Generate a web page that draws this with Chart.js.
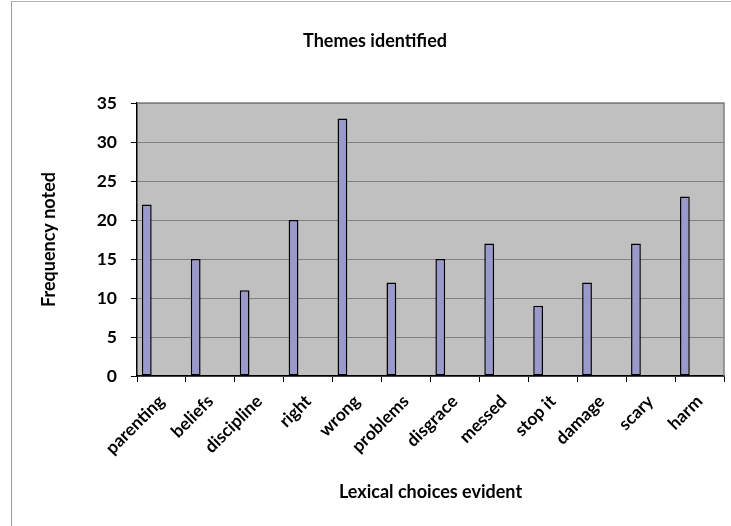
<!DOCTYPE html>
<html>
<head>
<meta charset="utf-8">
<script src="https://cdn.jsdelivr.net/npm/chart.js@4"></script>
<style>
  html, body { margin: 0; padding: 0; background: #fff; }
  #wrap { position: relative; width: 731px; height: 526px; overflow: hidden; }
  #frame { position: absolute; left: 11px; top: 1px; right: -5px; bottom: -5px;
           border-left: 1px solid #9a9a9a; border-top: 1px solid #b4b4b4; }
  canvas { position: absolute; left: 0; top: 0; }
</style>
</head>
<body>
<div id="wrap">
  <div id="frame"></div>
  <canvas id="c" width="731" height="526"></canvas>
</div>
<script>
const categories = ["parenting", "beliefs", "discipline", "right", "wrong", "problems",
                    "disgrace", "messed", "stop it", "damage", "scary", "harm"];
const frequencies = [22, 15, 11, 20, 33, 12, 15, 17, 9, 12, 17, 23];
const yTicks = [0, 5, 10, 15, 20, 25, 30, 35];
const chartTitle = "Themes identified";
const xTitle = "Lexical choices evident";
const yTitle = "Frequency noted";

const FONT = "Lato, 'Open Sans', sans-serif";

const plotBg = {
  id: 'plotBg',
  beforeDraw(chart) {
    const {ctx, chartArea: a} = chart;
    ctx.save();
    ctx.fillStyle = '#c0c0c0';
    ctx.fillRect(a.left, a.top, a.right - a.left, a.bottom - a.top);
    ctx.restore();
  },
  afterDraw(chart) {
    const {ctx, chartArea: a} = chart;
    ctx.save();
    ctx.strokeStyle = '#808080';
    ctx.lineWidth = 1.5;
    ctx.beginPath();
    ctx.moveTo(a.left, a.top);
    ctx.lineTo(a.right, a.top);
    ctx.lineTo(a.right, a.bottom);
    ctx.stroke();
    ctx.restore();
  }
};

// Excel-style clustered slot layout: only the first series holds data,
// the remaining slots of the cluster are empty.
new Chart(document.getElementById('c'), {
  type: 'bar',
  data: {
    labels: categories,
    datasets: [
      { label: 'Frequency', data: frequencies, backgroundColor: '#9999cc',
        borderColor: '#000000', borderWidth: 1.5, borderSkipped: false },
      { label: '', data: [] },
      { label: '', data: [] },
      { label: '', data: [] }
    ]
  },
  plugins: [plotBg],
  options: {
    responsive: false,
    animation: false,
    devicePixelRatio: 1,
    layout: { padding: { left: 26, right: 7, top: 0, bottom: 20 } },
    datasets: { bar: { categoryPercentage: 0.8, barPercentage: 1.0 } },
    plugins: {
      legend: { display: false },
      tooltip: { enabled: false },
      title: {
        display: true, text: chartTitle, color: '#000',
        font: { family: FONT, size: 18, weight: 'bold' },
        padding: { top: 30, bottom: 51.4 }
      }
    },
    scales: {
      x: {
        afterFit(axis) { axis.height = 130; },
        grid: { display: true, drawOnChartArea: false, drawTicks: true, tickLength: 6,
                tickColor: '#000', offset: true },
        border: { display: true, color: '#000', width: 1.5 },
        ticks: { color: '#000', minRotation: 45, maxRotation: 45, padding: 9,
                 font: { family: FONT, size: 17.5, weight: 'bold' } },
        title: { display: true, text: xTitle, color: '#000',
                 font: { family: FONT, size: 18, weight: 'bold' },
                 padding: { top: 0, bottom: 3 } }
      },
      y: {
        min: 0, max: 35,
        afterFit(axis) { axis.width = 111; },
        afterBuildTicks(axis) { axis.ticks = yTicks.map(v => ({ value: v })); },
        grid: { color: '#808080', lineWidth: 1, drawTicks: true, tickLength: 6, tickColor: '#000' },
        border: { display: true, color: '#000', width: 1.5 },
        ticks: { color: '#000', padding: 14,
                 font: { family: FONT, size: 17.5, weight: 'bold' } },
        title: { display: true, text: yTitle, color: '#000',
                 font: { family: FONT, size: 18, weight: 'bold' },
                 padding: { top: 12, bottom: 0 } }
      }
    }
  }
});
</script>
</body>
</html>
